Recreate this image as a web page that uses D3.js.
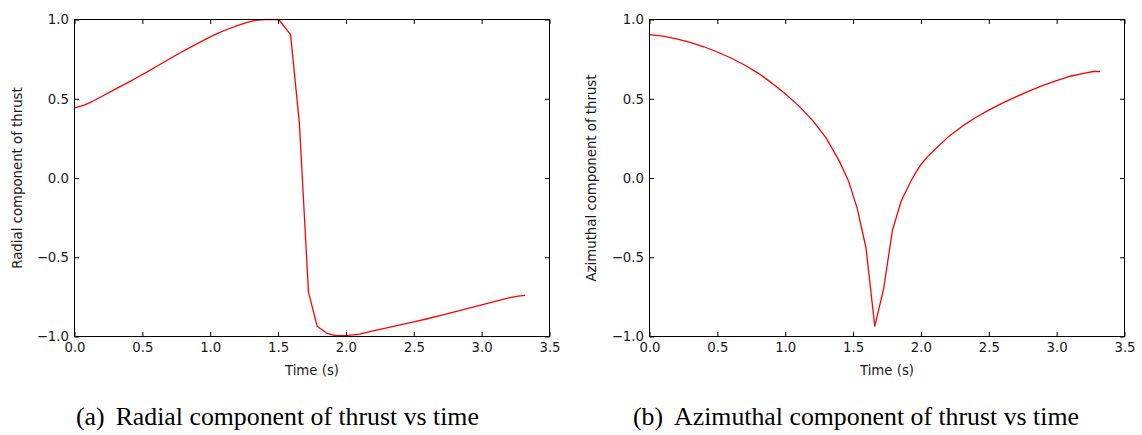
<!DOCTYPE html>
<html>
<head>
<meta charset="utf-8">
<script src="https://cdn.jsdelivr.net/npm/d3@7"></script>
<style>
  html, body { margin: 0; padding: 0; background: #fff; }
  svg { display: block; }
</style>
</head>
<body>
<svg id="fig" width="1142" height="435"></svg>
<script>
// Thrust direction components over the transfer (time in seconds)
const radialTime = [0.00, 0.067, 0.133, 0.20, 0.267, 0.333, 0.40, 0.467, 0.533, 0.60,
  0.667, 0.733, 0.80, 0.867, 0.933, 1.00, 1.067, 1.133, 1.20, 1.267, 1.333, 1.40,
  1.467, 1.505, 1.592, 1.657, 1.724, 1.788, 1.862, 1.923, 2.00, 2.10, 2.20, 2.30,
  2.40, 2.50, 2.60, 2.70, 2.80, 2.90, 3.00, 3.10, 3.20, 3.27, 3.32];
const radialThrust = [0.442, 0.458, 0.484, 0.514, 0.545, 0.575, 0.605, 0.637, 0.668, 0.702,
  0.735, 0.768, 0.800, 0.830, 0.860, 0.890, 0.917, 0.940, 0.962, 0.980, 0.994, 1.000,
  1.000, 1.000, 0.905, 0.346, -0.720, -0.935, -0.981, -0.994, -0.995, -0.985, -0.965, -0.946,
  -0.927, -0.908, -0.888, -0.867, -0.845, -0.823, -0.801, -0.779, -0.757, -0.745, -0.741];

const azimuthalTime = [0.00, 0.10, 0.20, 0.30, 0.40, 0.50, 0.60, 0.70, 0.80, 0.90,
  1.00, 1.10, 1.20, 1.30, 1.40, 1.467, 1.53, 1.595, 1.66, 1.725, 1.79, 1.855, 1.92,
  1.96, 2.00, 2.05, 2.10, 2.20, 2.30, 2.40, 2.50, 2.60, 2.70, 2.80, 2.90, 3.00, 3.10, 3.20, 3.27, 3.32];
const azimuthalThrust = [0.905, 0.895, 0.878, 0.856, 0.828, 0.795, 0.757, 0.713, 0.662, 0.600,
  0.532, 0.455, 0.365, 0.255, 0.105, -0.020, -0.190, -0.440, -0.935, -0.700, -0.330, -0.145, -0.030,
  0.032, 0.085, 0.135, 0.178, 0.258, 0.324, 0.380, 0.428, 0.472, 0.512, 0.550, 0.585, 0.615, 0.642, 0.660, 0.672, 0.672];

const xTicks = [0, 0.5, 1, 1.5, 2, 2.5, 3, 3.5];
const xTickLabels = ["0.0", "0.5", "1.0", "1.5", "2.0", "2.5", "3.0", "3.5"];
const yTicks = [-1, -0.5, 0, 0.5, 1];
const yTickLabels = ["\u22121.0", "\u22120.5", "0.0", "0.5", "1.0"];

const xLabel = "Time (s)";
const yLabels = ["Radial component of thrust", "Azimuthal component of thrust"];
const captionTags = ["(a)", "(b)"];
const captionTexts = ["Radial component of thrust vs time", "Azimuthal component of thrust vs time"];

const svg = d3.select("#fig");
const tickFont = "DejaVu Sans, Bitstream Vera Sans, sans-serif";
const fs = 13.3;

const panels = [
  { t: radialTime, v: radialThrust, left: 74.5, labelX: 21.5, capX: 76 },
  { t: azimuthalTime, v: azimuthalThrust, left: 649.5, labelX: 596, capX: 633 }
];

panels.forEach((p, i) => {
  const W = 475, top = 19.5, bottom = 336.5;
  const x = d3.scaleLinear().domain([0, 3.5]).range([p.left, p.left + W]);
  const y = d3.scaleLinear().domain([-1, 1]).range([bottom, top]);
  const g = svg.append("g");

  const clipId = "clip" + i;
  svg.append("clipPath").attr("id", clipId)
    .append("rect").attr("x", p.left).attr("y", top - 1).attr("width", W).attr("height", bottom - top + 2);

  // Data line
  const pts = p.t.map((t, k) => [t, p.v[k]]);
  g.append("path")
    .datum(pts)
    .attr("clip-path", `url(#${clipId})`)
    .attr("fill", "none")
    .attr("stroke", "#ff0000")
    .attr("stroke-width", 1.3)
    .attr("stroke-linejoin", "round")
    .attr("d", d3.line().x(d => x(d[0])).y(d => y(d[1])));

  const styleAxis = sel => {
    sel.select(".domain").remove();
    sel.selectAll(".tick line").attr("stroke", "#000").attr("stroke-width", 1);
    sel.selectAll(".tick text").attr("fill", "#1a1a1a").attr("font-family", tickFont).attr("font-size", fs);
  };

  // Inward ticks on all four sides, labels on bottom and left only
  g.append("g").attr("transform", `translate(0,${bottom})`)
    .call(d3.axisBottom(x).tickValues(xTicks).tickSize(-4.5).tickPadding(6.5)
      .tickFormat((d, k) => xTickLabels[k]))
    .call(styleAxis);
  g.append("g").attr("transform", `translate(0,${top})`)
    .call(d3.axisTop(x).tickValues(xTicks).tickSize(-4.5).tickFormat(""))
    .call(styleAxis);
  g.append("g").attr("transform", `translate(${p.left},0)`)
    .call(d3.axisLeft(y).tickValues(yTicks).tickSize(-4.5).tickPadding(5.5)
      .tickFormat((d, k) => yTickLabels[k]))
    .call(styleAxis);
  g.append("g").attr("transform", `translate(${p.left + W},0)`)
    .call(d3.axisRight(y).tickValues(yTicks).tickSize(-4.5).tickFormat(""))
    .call(styleAxis);

  // Frame
  g.append("rect")
    .attr("x", p.left).attr("y", top).attr("width", W).attr("height", bottom - top)
    .attr("fill", "none").attr("stroke", "#000").attr("stroke-width", 1);

  // Axis titles
  g.append("text")
    .attr("x", p.left + W / 2).attr("y", 375)
    .attr("text-anchor", "middle")
    .attr("font-family", tickFont).attr("font-size", fs).attr("fill", "#1a1a1a")
    .text(xLabel);
  g.append("text")
    .attr("transform", `translate(${p.labelX},${(top + bottom) / 2}) rotate(-90)`)
    .attr("text-anchor", "middle")
    .attr("font-family", tickFont).attr("font-size", fs).attr("fill", "#1a1a1a")
    .text(yLabels[i]);

  // Sub-figure caption
  const cap = svg.append("text")
    .attr("x", p.capX).attr("y", 424.5)
    .attr("font-family", "Liberation Serif, Times New Roman, serif")
    .attr("font-size", 25.8).attr("fill", "#000");
  cap.append("tspan").text(captionTags[i]);
  cap.append("tspan").attr("dx", 11).text(captionTexts[i]);
});
</script>
</body>
</html>
